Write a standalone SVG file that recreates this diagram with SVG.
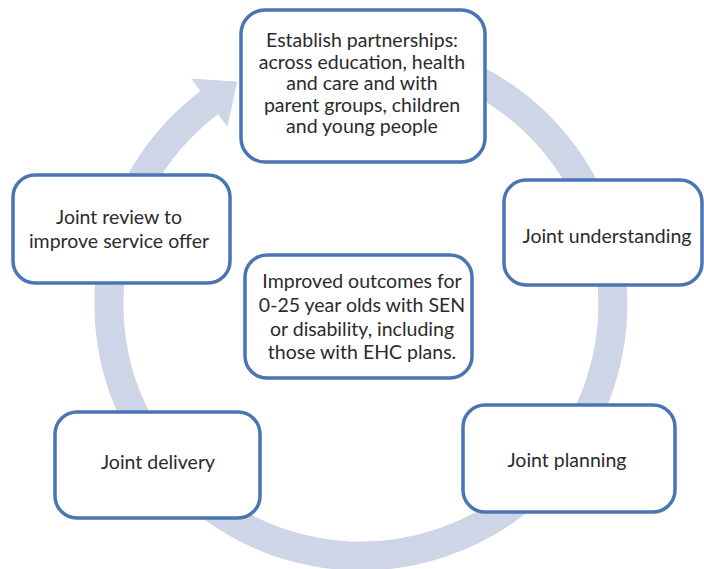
<svg xmlns="http://www.w3.org/2000/svg" width="704" height="569" viewBox="0 0 704 569">
<style>
.box{fill:#fff;stroke:#4a75b3;stroke-width:3.5}
.t{font-family:Lato,"Liberation Sans",sans-serif;font-size:19.5px;fill:#2b2b2b;text-anchor:middle}
.ring{fill:none;stroke:#cdd5e6;stroke-width:29}
</style>
<rect width="704" height="569" fill="#fff"/>
<g id="connectors">
<path class="ring" d="M 361 52 A 252 252 0 1 1 209.3 102.7"/>
<polygon fill="#cdd5e6" points="191.3,78.8 237.3,81.6 227.4,126.7"/>
</g>
<g id="n-establish">
<rect class="box" x="241" y="10" width="244" height="152" rx="24"/>
<text class="t" x="362" y="47">Establish partnerships:</text>
<text class="t" x="362" y="68.5">across education, health</text>
<text class="t" x="362" y="90">and care and with</text>
<text class="t" x="362" y="111.5">parent groups, children</text>
<text class="t" x="362" y="133">and young people</text>
</g>
<g id="n-understanding">
<rect class="box" x="504" y="180" width="198" height="105" rx="22"/>
<text class="t" x="607" y="243">Joint understanding</text>
</g>
<g id="n-planning">
<rect class="box" x="463" y="405" width="212" height="107" rx="22"/>
<text class="t" x="567" y="467">Joint planning</text>
</g>
<g id="n-delivery">
<rect class="box" x="55" y="412" width="205" height="106" rx="22"/>
<text class="t" x="158" y="469">Joint delivery</text>
</g>
<g id="n-review">
<rect class="box" x="13" y="175" width="217" height="108" rx="22"/>
<text class="t" x="119" y="224">Joint review to</text>
<text class="t" x="119" y="248">improve service offer</text>
</g>
<g id="n-outcomes">
<rect class="box" x="245" y="255" width="227" height="123" rx="22"/>
<text class="t" x="362" y="288">Improved outcomes for</text>
<text class="t" x="362" y="312">0-25 year olds with SEN</text>
<text class="t" x="362" y="336">or disability, including</text>
<text class="t" x="362" y="359">those with EHC plans.</text>
</g>
</svg>
